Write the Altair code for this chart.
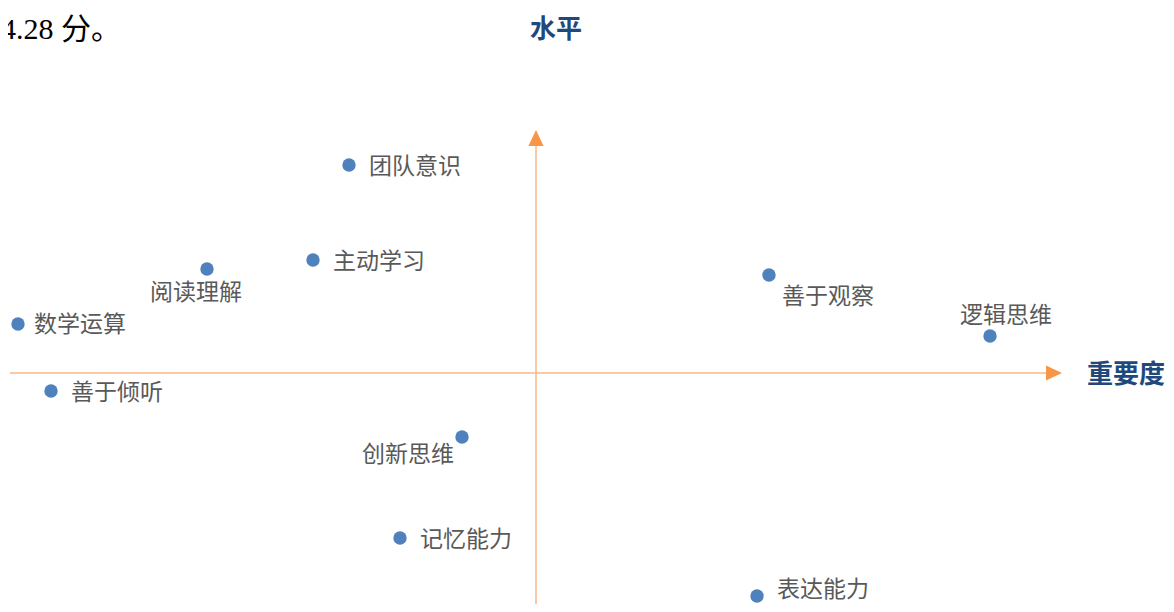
import altair as alt
import pandas as pd

# Data (importance deviation, level deviation)
skills = ["团队意识", "阅读理解", "主动学习", "数学运算", "善于倾听",
          "善于观察", "逻辑思维", "创新思维", "记忆能力", "表达能力"]
importance = [-1.87, -3.29, -2.23, -5.18, -4.85, 2.33, 4.54, -0.74, -1.36, 2.21]
level = [2.08, 1.04, 1.13, 0.49, -0.18, 0.98, 0.37, -0.64, -1.65, -2.23]

x_title = "重要度"
y_title = "水平"
intro_text = "4.28 分。"

df = pd.DataFrame({"skill": skills, "x": importance, "y": level})

XDOM = [-5.28, 6.30]
YDOM = [-2.31, 3.65]
xs = alt.Scale(domain=XDOM, nice=False, zero=False)
ys = alt.Scale(domain=YDOM, nice=False, zero=False)
X = lambda f: alt.X(f, type="quantitative", scale=xs, axis=None)
Y = lambda f: alt.Y(f, type="quantitative", scale=ys, axis=None)

axis_col = "#F9B98A"
head_col = "#F79646"
title_col = "#1F497D"
label_col = "#595959"
dot_col = "#4F81BD"
FONT = "Noto Sans CJK SC"

# axis lines
hline = alt.Chart(pd.DataFrame({"x": [-5.26], "x2": [5.12], "y": [0.0]})).mark_rule(
    color=axis_col, strokeWidth=1.5).encode(x=X("x"), x2="x2", y=Y("y"))
vline = alt.Chart(pd.DataFrame({"x": [0.0], "y": [-2.40], "y2": [2.30]})).mark_rule(
    color=axis_col, strokeWidth=1.5).encode(x=X("x"), y=Y("y"), y2="y2")

hhead = alt.Chart(pd.DataFrame({"x": [5.18], "y": [0.0]})).mark_point(
    shape="M-1,-0.95L1,0L-1,0.95Z", filled=True, opacity=1, color=head_col, size=256
).encode(x=X("x"), y=Y("y"))
vhead = alt.Chart(pd.DataFrame({"x": [0.0], "y": [2.35]})).mark_point(
    shape="M-0.95,1L0,-1L0.95,1Z", filled=True, opacity=1, color=head_col, size=256
).encode(x=X("x"), y=Y("y"))

xt = alt.Chart(pd.DataFrame({"x": [6.29], "y": [0.0], "t": [x_title]})).mark_text(
    align="right", baseline="middle", font=FONT, fontSize=26, fontWeight="bold",
    color=title_col, dy=2).encode(x=X("x"), y=Y("y"), text="t")
yt = alt.Chart(pd.DataFrame({"x": [0.20], "y": [3.65], "t": [y_title]})).mark_text(
    align="center", baseline="top", font=FONT, fontSize=26, fontWeight="bold",
    color=title_col, dy=9).encode(x=X("x"), y=Y("y"), text="t")
intro = alt.Chart(pd.DataFrame({"x": [-4.15], "y": [3.65], "t": [intro_text]})).mark_text(
    align="right", baseline="top", font="Liberation Serif, " + FONT, fontSize=30,
    color="#000000", dy=7).encode(x=X("x"), y=Y("y"), text="t")

base = alt.Chart(df)
dots = base.mark_circle(size=180, color=dot_col, opacity=1).encode(x=X("x"), y=Y("y"))

right_set = ["团队意识", "主动学习", "善于倾听", "记忆能力"]

def lab(names, **kw):
    return base.transform_filter(alt.FieldOneOfPredicate(field="skill", oneOf=names)).mark_text(
        font=FONT, fontSize=23, color=label_col, baseline="middle", **kw
    ).encode(x=X("x"), y=Y("y"), text="skill")

labels = [
    lab(right_set, align="left", dx=20, dy=2),
    lab(["数学运算"], align="left", dx=16, dy=1),
    lab(["表达能力"], align="left", dx=20, dy=-6),
    lab(["阅读理解"], align="center", dx=-11, dy=24),
    lab(["善于观察"], align="left", dx=13, dy=22),
    lab(["逻辑思维"], align="center", dx=16, dy=-20),
    lab(["创新思维"], align="right", dx=-8, dy=18),
]

chart = alt.layer(hline, vline, hhead, vhead, dots, *labels, xt, yt, intro).properties(
    width=1158, height=596, padding=0, autosize=alt.AutoSizeParams(type="none")
).configure_view(stroke=None)

chart.save("out.html", embed_options={"renderer": "svg", "actions": False})
